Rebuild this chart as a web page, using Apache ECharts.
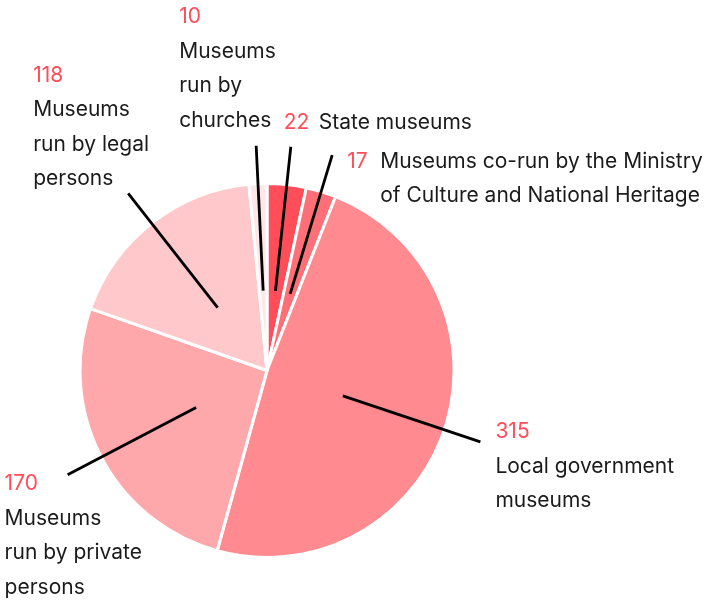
<!DOCTYPE html>
<html>
<head>
<meta charset="utf-8">
<script src="https://cdn.jsdelivr.net/npm/echarts@6/dist/echarts.min.js"></script>
<style>
  html, body { margin: 0; padding: 0; background: #fff; }
  #main { width: 710px; height: 604px; }
</style>
</head>
<body>
<div id="main"></div>
<script>
var categories = [
  'State museums',
  'Museums co-run by the Ministry\nof Culture and National Heritage',
  'Local government\nmuseums',
  'Museums\nrun by private\npersons',
  'Museums\nrun by legal\npersons',
  'Museums\nrun by\nchurches'
];
var values = [22, 17, 315, 170, 118, 10];
var colors = ['#ff4d5a', '#ff6f78', '#ff8a90', '#ffa8ab', '#ffc8cb', '#ffe6e8'];

// where the label box sits relative to the end of its leader line
var labelOffsets = [[-7, -41], [15, -11], [15, -27], [-63, -8], [-95, -135], [-77, -146]];
// number beside the name (width of number column) or 0 = number on its own line
var numberColumn = [35, 33, 0, 0, 0, 0];

var center = [267, 370.5];
var textStyle = { fontFamily: 'Inter', fontSize: 21, lineHeight: 34.5, align: 'left' };

function makeLabel(i) {
  var lines = categories[i].split('\n');
  var rich = {
    num: Object.assign({}, textStyle, { color: '#ff4d5a' }),
    name: Object.assign({}, textStyle, { color: '#1b1b1b' })
  };
  var text;
  if (numberColumn[i]) {
    rich.num.width = numberColumn[i];
    rich.gap = Object.assign({}, textStyle, { width: numberColumn[i] });
    text = lines.map(function (l, k) {
      return (k === 0 ? '{num|' + values[i] + '}' : '{gap| }') + '{name|' + l + '}';
    }).join('\n');
  } else {
    text = ['{num|' + values[i] + '}'].concat(lines.map(function (l) {
      return '{name|' + l + '}';
    })).join('\n');
  }
  return { formatter: text, rich: rich };
}

var pieData = values.map(function (v, i) {
  return { value: v, name: categories[i], itemStyle: { color: colors[i] } };
});

var labelData = values.map(function (v, i) {
  return { value: v, name: categories[i], label: makeLabel(i) };
});

var myChart = echarts.init(document.getElementById('main'));
myChart.setOption({
  animation: false,
  series: [
    {
      type: 'pie',
      z: 1,
      center: center,
      radius: 187,
      startAngle: 90,
      clockwise: true,
      silent: true,
      label: { show: false },
      labelLine: { show: false },
      itemStyle: { borderColor: '#fff', borderWidth: 3 },
      emphasis: { disabled: true },
      data: pieData
    },
    {
      // transparent inner ring that carries the leader lines and labels
      type: 'pie',
      z: 5,
      center: center,
      radius: 80,
      startAngle: 90,
      clockwise: true,
      silent: true,
      avoidLabelOverlap: false,
      itemStyle: { color: 'rgba(0,0,0,0)' },
      emphasis: { disabled: true },
      label: { show: true, position: 'outside' },
      labelLine: {
        show: true,
        length: 145,
        length2: 0,
        lineStyle: { color: '#000', width: 2.8 }
      },
      labelLayout: function (p) {
        var pts = p.labelLinePoints;
        var end = pts[pts.length - 1];
        var off = labelOffsets[p.dataIndex];
        return {
          x: end[0] + off[0],
          y: end[1] + off[1],
          align: 'left',
          verticalAlign: 'top',
          labelLinePoints: pts
        };
      },
      data: labelData
    }
  ]
});
</script>
</body>
</html>
